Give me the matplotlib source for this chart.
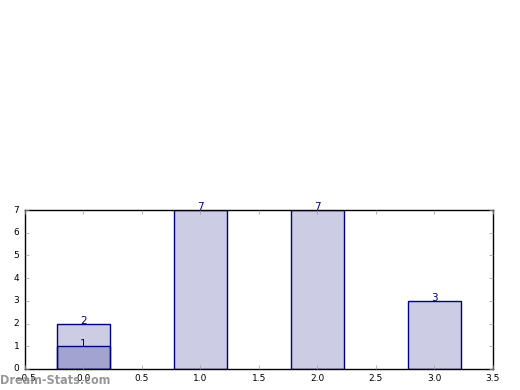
import matplotlib
matplotlib.use('Agg')
import matplotlib.pyplot as plt

# Data
positions = [0, 1, 2, 3]
counts = [2, 7, 7, 3]
overlay_positions = [0]
overlay_counts = [1]

NAVY = '#000080'
FILL = (0.0, 0.0, 0.5, 0.2)

plt.style.use('classic')
fig = plt.figure(figsize=(5.2, 3.9), dpi=100)
ax = fig.add_axes([0.048, 0.054, 0.9, 0.4075])

ax.bar(positions, counts, width=0.45, align='center', color=FILL, edgecolor=NAVY, linewidth=1)
ax.bar(overlay_positions, overlay_counts, width=0.45, align='center', color=FILL, edgecolor=NAVY, linewidth=1)

for x, v in zip(positions, counts):
    ax.text(x, v - 0.1, str(v), ha='center', va='bottom', fontsize=7.5, color=NAVY)
for x, v in zip(overlay_positions, overlay_counts):
    ax.text(x, v - 0.1, str(v), ha='center', va='bottom', fontsize=7.5, color=NAVY)

ax.set_xlim(-0.5, 3.5)
ax.set_ylim(0, 7)
ax.set_xticks([-0.5, 0, 0.5, 1, 1.5, 2, 2.5, 3, 3.5])
ax.set_yticks(range(0, 8))
ax.tick_params(labelsize=6.5, direction='in', length=3, color='#999999')

fig.text(0.0, 0.025, 'Dream-Stats.com', fontsize=9, fontweight='bold',
         family='DejaVu Sans', fontstretch='condensed',
         color='#8c8c8c', alpha=0.9, ha='left', va='center')

fig.savefig('out.png', dpi=100, facecolor='white')
